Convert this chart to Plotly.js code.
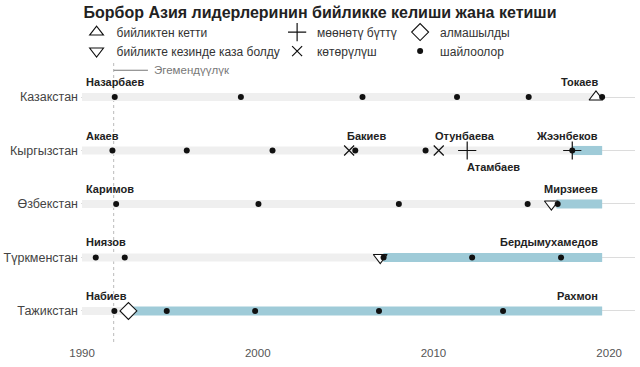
<!DOCTYPE html>
<html>
<head>
<meta charset="utf-8">
<script src="https://cdn.plot.ly/plotly-3.0.1.min.js"></script>
<style>html,body{margin:0;padding:0;background:#fff;}#chart{width:640px;height:367px;}</style>
</head>
<body>
<div id="chart"></div>
<script>
// Rows (bottom to top)
const countries = ["Тажикстан", "Түркменстан", "Өзбекстан", "Кыргызстан", "Казакстан"];
const rowIdx = [0, 1, 2, 3, 4];

// Timeline span for each country (grey band)
const spanStart = [1990, 1990, 1990, 1990, 1990];
const spanEnd = [2019.6, 2019.6, 2019.6, 2019.6, 2019.6];

// Current leader's term (blue band)
const currentRow = [0, 1, 2, 3];
const currentStart = [1992.85, 2007.15, 2017.0, 2017.9];
const currentEnd = [2019.6, 2019.6, 2019.6, 2019.6];

// Events
const leftPowerYear = [2019.25];            const leftPowerRow = [4];
const diedYear = [2016.71, 2006.97];        const diedRow = [2, 1];
const termEndYear = [2011.92, 2017.9];      const termEndRow = [3, 3];
const revolutionYear = [2005.2, 2010.3];    const revolutionRow = [3, 3];
const replacedYear = [1992.64];             const replacedRow = [0];
const electionYear = [
  1991.86, 1999.04, 2005.96, 2011.34, 2015.42, 2019.6,
  1991.73, 1995.96, 2000.84, 2005.55, 2009.55, 2017.9,
  1991.94, 2000.04, 2008.03, 2015.36, 2017.07,
  1990.78, 1992.43, 2007.16, 2012.2, 2017.26,
  1991.84, 1994.82, 1999.85, 2006.9, 2013.96
];
const electionRow = [
  4, 4, 4, 4, 4, 4,
  3, 3, 3, 3, 3, 3,
  2, 2, 2, 2, 2,
  1, 1, 1, 1, 1,
  0, 0, 0, 0, 0
];

const independenceYear = 1991.8;
const independenceLabel = "Эгемендүүлүк";

// Leader labels
const leaderNames = ["Назарбаев", "Токаев", "Акаев", "Бакиев", "Отунбаева", "Атамбаев", "Жээнбеков",
  "Каримов", "Мирзиеев", "Ниязов", "Бердымухамедов", "Набиев", "Рахмон"];
const leaderRow = [4, 4, 3, 3, 3, 3, 3, 2, 2, 1, 1, 0, 0];
const leaderX = [1990.1, 2019.5, 1990.1, 2006.2, 2011.8, 2013.4, 2019.5, 1990.1, 2019.5, 1990.1, 2019.5, 1990.1, 2019.5];
const leaderAnchor = ["left", "right", "left", "center", "center", "center", "right", "left", "right", "left", "right", "left", "right"];
const leaderBelow = [false, false, false, false, false, true, false, false, false, false, false, false, false];

const legendLabels = ["бийликтен кетти", "бийликте кезинде каза болду", "мөөнөтү бүттү", "көтөрүлүш", "алмашылды", "шайлоолор"];

const FONT = "Liberation Sans, Arial, Helvetica, sans-serif";
const GREY = "#efefef";
const BLUE = "#9fcbd8";

const traces = [
  {
    type: "bar", orientation: "h",
    y: rowIdx, base: spanStart, x: spanEnd.map((e, i) => e - spanStart[i]),
    marker: {color: GREY}, width: 0.15, showlegend: false, hoverinfo: "skip"
  },
  {
    type: "bar", orientation: "h",
    y: currentRow, base: currentStart, x: currentEnd.map((e, i) => e - currentStart[i]),
    marker: {color: BLUE}, width: 0.17, showlegend: false, hoverinfo: "skip"
  },
  {
    type: "scatter", mode: "markers", name: legendLabels[0], legend: "legend",
    x: leftPowerYear, y: leftPowerRow,
    marker: {symbol: "triangle-up", size: 12, color: "#fff", line: {color: "#111", width: 1.1}}
  },
  {
    type: "scatter", mode: "markers", name: legendLabels[1], legend: "legend",
    x: diedYear, y: diedRow,
    marker: {symbol: "triangle-down", size: 12, color: "#fff", line: {color: "#111", width: 1.1}}
  },
  {
    type: "scatter", mode: "markers", name: legendLabels[2], legend: "legend2",
    x: termEndYear, y: termEndRow,
    marker: {symbol: "cross-thin", size: 13, color: "#111", line: {color: "#111", width: 1.2}}
  },
  {
    type: "scatter", mode: "markers", name: legendLabels[3], legend: "legend2",
    x: revolutionYear, y: revolutionRow,
    marker: {symbol: "x-thin", size: 10, color: "#111", line: {color: "#111", width: 1.2}}
  },
  {
    type: "scatter", mode: "markers", name: legendLabels[4], legend: "legend3",
    x: replacedYear, y: replacedRow,
    marker: {symbol: "diamond", size: 13, color: "#fff", line: {color: "#111", width: 1.1}}
  },
  {
    type: "scatter", mode: "markers", name: legendLabels[5], legend: "legend3",
    x: electionYear, y: electionRow,
    marker: {symbol: "circle", size: 6, color: "#111"}
  }
];

const annotations = leaderNames.map((n, i) => ({
  x: leaderX[i], y: leaderRow[i], xref: "x", yref: "y",
  text: "<b>" + n + "</b>", showarrow: false,
  xanchor: leaderAnchor[i], yanchor: "middle",
  yshift: leaderBelow[i] ? -16 : 15,
  font: {family: FONT, size: 11, color: "#222"}
}));
annotations.push({
  x: independenceYear + 2.2, y: 4.5, xref: "x", yref: "y",
  text: independenceLabel, showarrow: false, xanchor: "left", yanchor: "middle",
  font: {family: FONT, size: 11.5, color: "#777"}
});

const legendBase = {
  orientation: "v", yanchor: "top", xanchor: "left",
  y: 1.167, bgcolor: "rgba(0,0,0,0)", borderwidth: 0,
  font: {family: FONT, size: 12, color: "#333"}, itemclick: false, itemdoubleclick: false
};

const layout = {
  width: 640, height: 367,
  margin: {l: 81, r: 5, t: 64, b: 25},
  paper_bgcolor: "#fff", plot_bgcolor: "#fff",
  font: {family: FONT, color: "#444"},
  title: {
    text: "<b>Борбор Азия лидерлеринин бийликке келиши жана кетиши</b>",
    x: 0.5, xanchor: "center", xref: "container", y: 0.967, yref: "container", yanchor: "middle",
    font: {family: FONT, size: 16, color: "#222"}
  },
  barmode: "overlay",
  xaxis: {
    range: [1989.94, 2021.47], tickvals: [1990, 2000, 2010, 2020],
    showgrid: false, zeroline: false, showline: false, ticks: "",
    ticklabelstandoff: 2,
    tickfont: {family: FONT, size: 11.5, color: "#555"}, fixedrange: true
  },
  yaxis: {
    range: [-0.58, 4.617], tickvals: rowIdx, ticktext: countries,
    showgrid: true, gridcolor: "#dcdcdc", gridwidth: 1, zeroline: false, showline: false, ticks: "",
    ticklabelstandoff: 2,
    tickfont: {family: FONT, size: 12.5, color: "#444"}, fixedrange: true
  },
  legend: Object.assign({}, legendBase, {x: -0.008}),
  legend2: Object.assign({}, legendBase, {x: 0.354}),
  legend3: Object.assign({}, legendBase, {x: 0.576}),
  shapes: [
    {type: "line", xref: "x", yref: "paper", x0: independenceYear, x1: independenceYear, y0: 0, y1: 1.01,
     line: {color: "#bbb", width: 1, dash: "dot"}, layer: "below"},
    {type: "line", xref: "x", yref: "y", x0: independenceYear, x1: independenceYear + 1.95, y0: 4.5, y1: 4.5,
     line: {color: "#777", width: 1}}
  ],
  annotations: annotations
};

Plotly.newPlot("chart", traces, layout, {displayModeBar: false, staticPlot: true});
</script>
</body>
</html>
